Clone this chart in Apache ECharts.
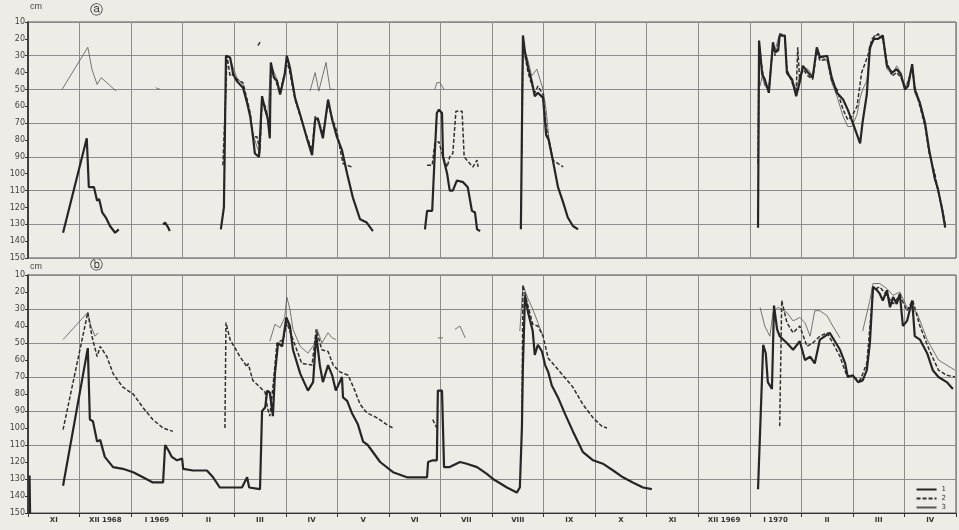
<!DOCTYPE html>
<html>
<head>
<meta charset="utf-8">
<title>chart</title>
<script src="https://cdn.jsdelivr.net/npm/echarts@6.0.0/dist/echarts.min.js"></script>
<style>
html,body{margin:0;padding:0;background:#eeece7;}
#chart{width:959px;height:530px;}
</style>
</head>
<body>
<div id="chart"></div>
<script>
// month labels under panel b (x axis: months counted from 1 Nov 1968)
var months = ['XI','XII 1968','I 1969','II','III','IV','V','VI','VII','VIII','IX','X','XI','XII 1969','I 1970','II','III','IV'];
var series_names = ['1','2','3'];

// panel a, depth in cm, null = gap in record
var a1 = [[0.68,135],[1.14,79],[1.18,108],[1.28,108],[1.34,116],[1.38,115],[1.44,123],[1.51,126],[1.59,131],[1.69,135],[1.76,133],null,
    [2.42,134],null,[2.62,130],[2.66,129],[2.72,132],[2.75,134],null,
    [3.74,133],[3.80,120],[3.84,30],[3.92,31],[3.98,41],[4.05,45],[4.17,49],[4.25,58],[4.31,66],[4.36,77],[4.40,88],[4.48,90],[4.54,54],[4.60,62],[4.65,67],[4.69,79],[4.71,34],[4.77,43],[4.83,45],[4.89,53],[4.98,41],[5.02,30],[5.08,37],[5.18,55],[5.28,65],[5.41,79],[5.51,89],[5.57,68],[5.62,67],[5.72,79],[5.82,56],[5.90,68],[5.99,78],[6.09,86],[6.19,100],[6.30,114],[6.44,127],[6.57,129],[6.69,134],null,
    [7.70,133],[7.74,122],[7.84,122],[7.89,88],[7.93,64],[7.97,62],[8.03,64],[8.05,90],[8.13,100],[8.18,110],[8.24,110],[8.32,104],[8.44,105],[8.53,108],[8.61,122],[8.67,123],[8.71,133],[8.77,134],null,
    [9.56,133],[9.60,18],[9.64,28],[9.70,37],[9.77,45],[9.83,54],[9.89,52],[9.99,55],[10.05,77],[10.10,80],[10.18,92],[10.28,108],[10.38,117],[10.47,126],[10.57,131],[10.67,133],null,
    [14.16,132],[14.18,21],[14.24,41],[14.29,44],[14.37,52],[14.45,22],[14.49,28],[14.55,27],[14.58,18],[14.68,18],[14.72,40],[14.82,44],[14.90,54],[14.95,48],[15.03,36],[15.13,40],[15.22,43],[15.30,25],[15.36,31],[15.50,30],[15.59,43],[15.69,52],[15.81,56],[15.90,62],[16.00,70],[16.14,82],[16.19,69],[16.27,53],[16.33,25],[16.41,20],[16.49,20],[16.58,18],[16.66,36],[16.76,40],[16.85,38],[16.93,41],[17.01,50],[17.07,48],[17.15,35],[17.20,50],[17.30,58],[17.40,70],[17.48,86],[17.59,103],[17.65,109],[17.73,121],[17.79,132]];
var a2 = [[3.78,95],[3.84,50],[3.86,30],[3.92,42],[3.98,41],[4.05,44],[4.17,46],[4.25,56],[4.31,64],[4.36,78],[4.44,78],[4.50,86],[4.54,56],[4.60,60],[4.65,68],[4.69,76],[4.71,36],[4.77,42],[4.83,47],[4.89,52],[4.98,40],[5.02,33],[5.08,40],[5.18,56],[5.28,66],[5.41,78],[5.51,86],[5.57,66],[5.62,68],[5.72,76],[5.82,58],[5.90,67],[5.99,75],[6.07,88],[6.11,94],[6.28,96],null,
    [4.46,24],[4.52,21],null,
    [7.74,95],[7.84,95],[7.89,82],[7.97,81],[8.05,90],[8.13,96],[8.18,90],[8.24,88],[8.30,63],[8.42,63],[8.46,90],[8.57,94],[8.63,96],[8.71,92],[8.73,96],null,
    [9.58,88],[9.60,20],[9.64,30],[9.70,40],[9.77,47],[9.83,52],[9.89,48],[9.99,53],[10.05,72],[10.10,80],[10.18,92],[10.38,96],null,
    [14.16,94],[14.18,22],[14.24,38],[14.29,46],[14.37,50],[14.45,24],[14.49,30],[14.55,24],[14.58,17],[14.68,18],[14.72,38],[14.82,46],[14.90,52],[14.93,25],[14.97,46],[15.03,38],[15.13,42],[15.22,44],[15.30,27],[15.36,33],[15.50,32],[15.59,45],[15.69,50],[15.81,62],[15.90,68],[15.98,66],[16.08,60],[16.17,40],[16.29,30],[16.37,20],[16.49,17],[16.58,20],[16.66,34],[16.76,42],[16.85,40],[16.93,43],[17.01,48],[17.07,46],[17.15,37],[17.20,48],[17.30,60],[17.40,72],[17.48,88],[17.59,100],[17.65,110],[17.73,120],[17.79,130]];
var a3 = [[0.66,50],[1.16,25],[1.24,38],[1.34,47],[1.42,43],[1.71,51],null,
    [2.48,49],[2.56,50],null,
    [3.86,30],[3.92,32],[4.05,43],[4.17,47],[4.25,57],[4.31,65],[4.36,76],[4.44,84],[4.50,88],[4.54,55],[4.65,66],[4.71,35],[4.83,44],[4.89,52],[4.98,40],[5.02,31],[5.08,38],[5.14,50],[5.18,50],null,
    [5.47,51],[5.57,40],[5.64,51],[5.78,34],[5.86,50],[5.95,50],null,
    [7.89,50],[7.93,46],[7.99,46],[8.07,50],null,
    [9.58,60],[9.60,19],[9.64,27],[9.70,33],[9.77,42],[9.87,38],[9.99,50],[10.05,62],[10.10,78],[10.16,88],null,
    [14.20,48],[14.24,42],[14.29,48],[14.37,50],[14.45,24],[14.49,27],[14.55,20],[14.58,18],[14.68,19],[14.72,41],[14.82,45],[14.90,50],[14.95,44],[15.03,37],[15.13,38],[15.22,42],[15.30,26],[15.36,30],[15.50,33],[15.59,46],[15.69,54],[15.81,66],[15.90,72],[15.98,72],[16.08,65],[16.14,55],[16.19,50],[16.27,45],[16.33,28],[16.41,18],[16.49,18],[16.58,20],[16.66,38],[16.76,41],[16.85,36],[16.93,40],[17.01,49],[17.07,45],[17.15,36],[17.20,52],[17.30,59],[17.40,71],[17.48,87],[17.59,104],[17.65,110],[17.73,122],[17.79,131]];

// panel b
var b1 = [[0.03,128],[0.04,150],null,
    [0.68,134],[1.16,53],[1.20,95],[1.26,96],[1.34,108],[1.40,107],[1.49,117],[1.65,123],[1.84,124],[2.04,126],[2.23,129],[2.42,132],[2.62,132],[2.66,110],[2.72,113],[2.79,117],[2.89,119],[2.99,118],[3.01,124],[3.20,125],[3.47,125],[3.59,129],[3.72,135],[3.98,135],[4.15,135],[4.25,129],[4.29,135],[4.50,136],[4.54,90],[4.60,88],[4.64,78],[4.69,79],[4.75,93],[4.79,68],[4.85,50],[4.93,52],[5.01,35],[5.08,40],[5.14,54],[5.28,68],[5.43,78],[5.53,73],[5.59,45],[5.66,63],[5.72,73],[5.82,63],[5.90,69],[5.97,78],[6.09,70],[6.11,82],[6.19,84],[6.28,91],[6.40,98],[6.50,108],[6.59,110],[6.83,120],[7.08,126],[7.35,129],[7.74,129],[7.76,120],[7.85,119],[7.93,119],[7.95,78],[8.03,78],[8.07,123],[8.18,123],[8.38,120],[8.51,121],[8.71,123],[8.90,127],[9.02,130],[9.29,135],[9.48,138],[9.54,135],[9.58,100],[9.60,63],[9.64,22],[9.70,32],[9.79,43],[9.83,57],[9.89,51],[9.97,55],[10.03,63],[10.09,67],[10.16,75],[10.28,82],[10.42,92],[10.57,102],[10.76,114],[10.96,119],[11.15,121],[11.35,125],[11.54,129],[11.73,132],[11.93,135],[12.10,136],null,
    [14.16,136],[14.26,51],[14.31,56],[14.35,73],[14.43,77],[14.47,28],[14.53,42],[14.58,46],[14.72,50],[14.84,54],[14.97,49],[15.07,60],[15.17,58],[15.26,62],[15.36,48],[15.46,46],[15.55,44],[15.65,49],[15.75,54],[15.85,62],[15.90,70],[16.00,69],[16.10,73],[16.19,72],[16.27,66],[16.33,50],[16.39,17],[16.47,19],[16.52,21],[16.58,25],[16.66,19],[16.72,29],[16.78,23],[16.85,27],[16.91,21],[16.97,40],[17.05,37],[17.15,25],[17.20,46],[17.30,48],[17.44,56],[17.55,66],[17.66,70],[17.82,73],[17.94,77]];
var b2 = [[0.68,101],[1.16,32],[1.24,46],[1.34,58],[1.40,52],[1.53,58],[1.65,68],[1.84,76],[2.04,80],[2.23,88],[2.42,95],[2.62,100],[2.81,102],null,
    [3.82,100],[3.84,38],[3.92,48],[4.11,58],[4.25,64],[4.27,62],[4.36,72],[4.50,76],[4.60,79],[4.65,89],[4.69,93],[4.75,76],[4.83,50],[4.95,48],[5.02,38],[5.14,48],[5.31,62],[5.51,63],[5.59,42],[5.70,54],[5.82,55],[5.92,63],[6.05,67],[6.21,69],[6.34,78],[6.44,86],[6.57,91],[6.77,94],[6.96,98],[7.08,100],null,
    [7.85,95],[7.93,100],null,
    [9.58,100],[9.60,16],[9.68,26],[9.79,39],[9.89,40],[9.99,46],[10.09,59],[10.32,67],[10.57,76],[10.76,86],[10.96,94],[11.13,99],[11.23,100],null,
    [14.58,99],[14.62,25],[14.72,38],[14.84,44],[14.97,40],[15.11,52],[15.22,50],[15.36,46],[15.50,44],[15.61,50],[15.75,58],[15.88,69],[16.00,70],[16.14,72],[16.27,62],[16.39,19],[16.52,17],[16.66,22],[16.78,27],[16.91,22],[17.05,31],[17.16,25],[17.30,40],[17.48,54],[17.66,66],[17.82,69],[17.98,70]];
var b3 = [[0.68,48],[1.16,32],[1.22,40],[1.30,46],[1.36,44],null,
    [4.69,49],[4.79,39],[4.89,41],[4.98,35],[5.02,23],[5.08,30],[5.14,42],[5.28,52],[5.43,56],[5.57,50],[5.61,42],[5.70,50],[5.82,44],[5.90,47],[5.97,48],null,
    [7.95,47],[8.05,47],null,[8.28,42],[8.38,40],[8.48,47],null,
    [9.54,43],[9.60,16],[9.70,24],[9.79,30],[9.89,38],[9.99,46],null,
    [14.20,29],[14.29,40],[14.39,46],[14.45,32],[14.55,29],[14.72,32],[14.84,37],[14.97,35],[15.07,38],[15.17,46],[15.26,31],[15.36,31],[15.50,34],[15.61,40],[15.75,47],null,
    [16.19,43],[16.33,25],[16.39,15],[16.52,15],[16.66,18],[16.78,22],[16.91,20],[17.05,29],[17.24,32],[17.44,48],[17.66,60],[17.98,66]];

window.onload = function () {
    var myChart = echarts.init(document.getElementById('chart'));
    myChart.setOption(get_option());
};

function gaps(data) {
    return data.map(function (p) { return p === null ? ['-', '-'] : p; });
}

function line_style(name) {
    if (name === '1') return {color: '#262626', width: 2.2, type: 'solid'};
    if (name === '2') return {color: '#303030', width: 1.5, type: [4, 2]};
    return {color: '#555', width: 0.8, type: 'solid'};
}

function make_series(name, data, idx) {
    var st = line_style(name);
    return {
        name: name,
        type: 'line',
        xAxisIndex: idx,
        yAxisIndex: idx * 2,
        data: gaps(data),
        symbol: 'none',
        connectNulls: false,
        color: st.color,
        lineStyle: st,
        z: name === '1' ? 4 : (name === '2' ? 3 : 2)
    };
}

function y_axes(idx) {
    return [
        {
            gridIndex: idx, type: 'value', min: 10, max: 150, interval: 10, inverse: true,
            axisLine: {show: true, lineStyle: {color: '#2a2a2a', width: 1.6}},
            axisTick: {show: true, length: 3, lineStyle: {color: '#333'}},
            axisLabel: {fontSize: 8, color: '#444', margin: 3, fontFamily: 'DejaVu Sans'},
            splitLine: {show: false}
        },
        {
            gridIndex: idx, type: 'value', min: 10, max: 150, interval: 20, inverse: true,
            axisLine: {show: false}, axisTick: {show: false}, axisLabel: {show: false},
            splitLine: {show: true, lineStyle: {color: '#8c8c8c', width: 1}}
        }
    ];
}

function x_axis(idx) {
    return {
        gridIndex: idx, type: 'value', min: 0, max: 18, interval: 1,
        axisLine: {show: false}, axisTick: {show: false}, axisLabel: {show: false},
        splitLine: {show: true, lineStyle: {color: '#8c8c8c', width: 1}}
    };
}

function get_option() {
    var option = {
        backgroundColor: '#eeece7',
        animation: false,
        textStyle: {fontFamily: 'DejaVu Sans'},
        grid: [
            {left: 28, right: 3, top: 22, height: 236, show: true, borderColor: '#555', borderWidth: 1},
            {left: 28, right: 3, top: 275, height: 238, show: true, borderColor: '#555', borderWidth: 1}
        ],
        legend: {
            data: series_names,
            orient: 'vertical',
            right: 8,
            top: 481,
            itemGap: 2,
            itemWidth: 20,
            itemHeight: 7,
            itemStyle: {color: 'rgba(0,0,0,0)', borderWidth: 0, opacity: 0},
            textStyle: {fontSize: 7, color: '#333'}
        },
        graphic: [
            {type: 'text', left: 30, top: 2, style: {text: 'cm', fontSize: 9, fill: '#444'}},
            {type: 'text', left: 90, top: 4, style: {text: 'ⓐ', fontSize: 13, fill: '#333'}},
            {type: 'text', left: 30, top: 262, style: {text: 'cm', fontSize: 9, fill: '#444'}},
            {type: 'text', left: 90, top: 259, style: {text: 'ⓑ', fontSize: 13, fill: '#333'}}
        ],
        xAxis: [
            x_axis(0),
            x_axis(1),
            {
                gridIndex: 1, type: 'category', data: months, position: 'bottom', boundaryGap: true,
                axisLine: {show: true, lineStyle: {color: '#333'}},
                axisTick: {show: true, length: 4, lineStyle: {color: '#333'}},
                axisLabel: {fontSize: 7, fontWeight: 'bold', color: '#333', margin: 4, interval: 0},
                splitLine: {show: false}
            }
        ],
        yAxis: y_axes(0).concat(y_axes(1)),
        series: [
            make_series('3', a3, 0),
            make_series('2', a2, 0),
            make_series('1', a1, 0),
            make_series('3', b3, 1),
            make_series('2', b2, 1),
            make_series('1', b1, 1)
        ]
    };
    return option;
}
</script>
</body>
</html>
